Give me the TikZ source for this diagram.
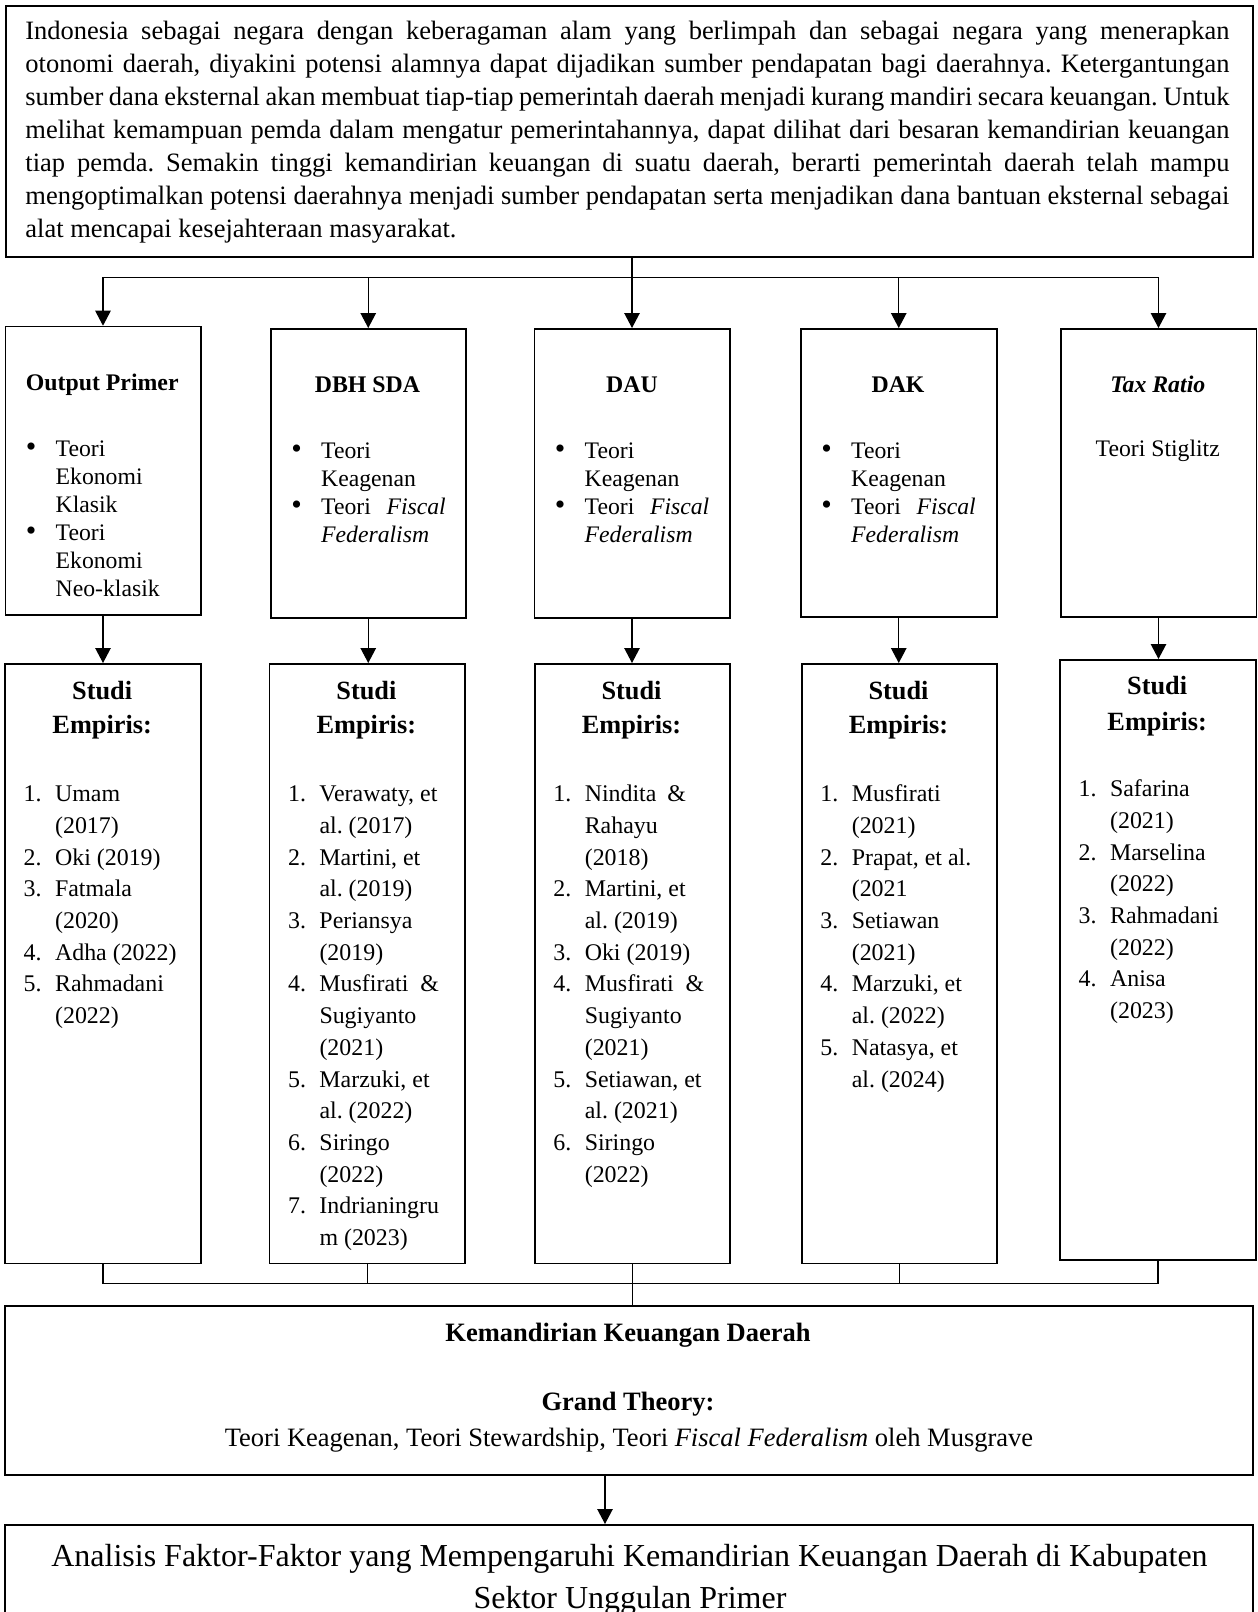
\documentclass[tikz,border=0pt]{standalone}
\usepackage{fontspec}
\setmainfont{Liberation Serif}
\usetikzlibrary{arrows.meta}
\frenchspacing
\newcommand\mkbox[5]{\node[bx, minimum width={(#4-#2)*0.5pt}, minimum height={(#5-#3)*0.5pt}] (#1) at (#2,#3) {};}
\newcommand\Li[2]{\hbox{\hbox to 15.7pt{#1\hfil}#2}}
\newcommand\Bu[2]{\hbox{\hbox to 14.9pt{#1\hfil}#2}}
\newcommand\bul{\raisebox{-0.4pt}{\fontsize{15}{15}\selectfont\textbullet}}
\newcommand\TF{\hbox to 62.3pt{Teori\hfil\textit{Fiscal}}}
\begin{document}
\begin{tikzpicture}[x=0.5pt,y=-0.5pt,
  bx/.style={draw, line width=0.75pt, inner sep=0pt, anchor=north west},
  ln/.style={line width=0.6pt, line cap=rect},
  arr/.style={line width=0.6pt, -{Triangle[length=7.5pt,width=7.75pt]}},
  hd/.style={inner sep=0pt, anchor=base, font=\fontsize{11.9}{14}\selectfont\bfseries},
  bl/.style={inner sep=0pt, anchor=base west, font=\fontsize{11.85}{14}\selectfont},
  sh/.style={inner sep=0pt, anchor=base, font=\fontsize{13.15}{17}\selectfont\bfseries},
  nl/.style={inner sep=0pt, anchor=base west, font=\fontsize{11.95}{15.85}\selectfont},
  kt/.style={inner sep=0pt, anchor=base, font=\fontsize{13.25}{16}\selectfont},
  ktb/.style={kt, font=\fontsize{13.25}{16}\selectfont\bfseries},
  ft/.style={inner sep=0pt, anchor=base, font=\fontsize{16}{21}\selectfont},
]
\useasboundingbox (0,0) rectangle (1258,1612);
\clip (0,0) rectangle (1258,1612);

% boxes
\mkbox{top}{5}{5}{1252}{256}
\mkbox{op}{4.5}{325.7}{200}{614}
\mkbox{dbh}{270}{328}{465}{617}
\mkbox{dau}{533.5}{328}{729}{617}
\mkbox{dak}{800}{328}{996}{616}
\mkbox{tax}{1060}{328}{1255.5}{616}
\mkbox{sa}{4.3}{663}{200}{1262.5}
\mkbox{sb}{268.7}{663}{464}{1262.5}
\mkbox{sc}{534}{663}{729}{1262.5}
\mkbox{sd}{801}{663}{996}{1262.5}
\mkbox{se}{1059.3}{659}{1255}{1259}
\mkbox{kem}{4}{1305.3}{1252}{1474}
\mkbox{fin}{4}{1524}{1252}{1700}

% intro text
\node[anchor=base west, inner sep=0pt, font=\fontsize{13.25}{16.5}\selectfont] (intro) at (25,39) {\vtop{\hsize=602pt
\hbox to\hsize{Indonesia sebagai negara dengan keberagaman alam yang berlimpah dan sebagai negara yang menerapkan}
\hbox to\hsize{otonomi daerah, diyakini potensi alamnya dapat dijadikan sumber pendapatan bagi daerahnya. Ketergantungan}
\hbox to\hsize{sumber dana eksternal akan membuat tiap-tiap pemerintah daerah menjadi kurang mandiri secara keuangan. Untuk}
\hbox to\hsize{melihat kemampuan pemda dalam mengatur pemerintahannya, dapat dilihat dari besaran kemandirian keuangan}
\hbox to\hsize{tiap pemda. Semakin tinggi kemandirian keuangan di suatu daerah, berarti pemerintah daerah telah mampu}
\hbox to\hsize{mengoptimalkan potensi daerahnya menjadi sumber pendapatan serta menjadikan dana bantuan eksternal sebagai}
\hbox{alat mencapai kesejahteraan masyarakat.}}};

% row 1 headings
\node[hd] (hop) at (102.25,390.7) {Output Primer};
\node[hd] (hdbh) at (367.5,392.7) {DBH SDA};
\node[hd] (hdau) at (632,392.7) {DAU};
\node[hd] (hdak) at (898,392.7) {DAK};
\node[hd] (htax) at (1157.75,392.2) {\itshape Tax Ratio};

% row 1 lists
\node[bl] (lop) at (25.5,456) {\vtop{\Bu{\bul}{Teori}\Bu{}{Ekonomi}\Bu{}{Klasik}\Bu{\bul}{Teori}\Bu{}{Ekonomi}\Bu{}{Neo-klasik}}};
\node[bl] (ldbh) at (291,458) {\vtop{\Bu{\bul}{Teori}\Bu{}{Keagenan}\Bu{\bul}{\TF}\Bu{}{\textit{Federalism}}}};
\node[bl] (ldau) at (554.5,458) {\vtop{\Bu{\bul}{Teori}\Bu{}{Keagenan}\Bu{\bul}{\TF}\Bu{}{\textit{Federalism}}}};
\node[bl] (ldak) at (821,458) {\vtop{\Bu{\bul}{Teori}\Bu{}{Keagenan}\Bu{\bul}{\TF}\Bu{}{\textit{Federalism}}}};
\node[bl, anchor=base] (ltax) at (1157.75,456) {Teori Stiglitz};

% studi headings
\node[sh] (ha) at (102.15,699.3) {\vtop{\hbox to 90pt{\hfil Studi\hfil}\hbox to 90pt{\hfil Empiris:\hfil}}};
\node[sh] (hb) at (366.35,699.3) {\vtop{\hbox to 90pt{\hfil Studi\hfil}\hbox to 90pt{\hfil Empiris:\hfil}}};
\node[sh] (hc) at (631.5,699.3) {\vtop{\hbox to 90pt{\hfil Studi\hfil}\hbox to 90pt{\hfil Empiris:\hfil}}};
\node[sh] (hd) at (898.5,699.3) {\vtop{\hbox to 90pt{\hfil Studi\hfil}\hbox to 90pt{\hfil Empiris:\hfil}}};
\node[sh, font=\fontsize{13.15}{18}\selectfont\bfseries] (he) at (1157.15,694) {\vtop{\hbox to 90pt{\hfil Studi\hfil}\hbox to 90pt{\hfil Empiris:\hfil}}};

% studi lists
\node[nl] (la) at (23.3,801.7) {\vtop{\Li{1.}{Umam}\Li{}{(2017)}\Li{2.}{Oki (2019)}\Li{3.}{Fatmala}\Li{}{(2020)}\Li{4.}{Adha (2022)}\Li{5.}{Rahmadani}\Li{}{(2022)}}};
\node[nl] (lb) at (287.7,801.7) {\vtop{\Li{1.}{Verawaty, et}\Li{}{al. (2017)}\Li{2.}{Martini, et}\Li{}{al. (2019)}\Li{3.}{Periansya}\Li{}{(2019)}\Li{4.}{\hbox to 59.7pt{Musfirati\hfil\&}}\Li{}{Sugiyanto}\Li{}{(2021)}\Li{5.}{Marzuki, et}\Li{}{al. (2022)}\Li{6.}{Siringo}\Li{}{(2022)}\Li{7.}{Indrianingru}\Li{}{m (2023)}}};
\node[nl] (lc) at (553,801.7) {\vtop{\Li{1.}{\hbox to 50.6pt{Nindita\hfil\&}}\Li{}{Rahayu}\Li{}{(2018)}\Li{2.}{Martini, et}\Li{}{al. (2019)}\Li{3.}{Oki (2019)}\Li{4.}{\hbox to 59.7pt{Musfirati\hfil\&}}\Li{}{Sugiyanto}\Li{}{(2021)}\Li{5.}{Setiawan, et}\Li{}{al. (2021)}\Li{6.}{Siringo}\Li{}{(2022)}}};
\node[nl] (ld) at (820,801.7) {\vtop{\Li{1.}{Musfirati}\Li{}{(2021)}\Li{2.}{Prapat, et al.}\Li{}{(2021}\Li{3.}{Setiawan}\Li{}{(2021)}\Li{4.}{Marzuki, et}\Li{}{al. (2022)}\Li{5.}{Natasya, et}\Li{}{al. (2024)}}};
\node[nl] (le) at (1078.3,796.7) {\vtop{\Li{1.}{Safarina}\Li{}{(2021)}\Li{2.}{Marselina}\Li{}{(2022)}\Li{3.}{Rahmadani}\Li{}{(2022)}\Li{4.}{Anisa}\Li{}{(2023)}}};

% kemandirian
\node[ktb] (kt1) at (628,1341) {Kemandirian Keuangan Daerah};
\node[ktb] (kt2) at (628,1410) {Grand Theory:};
\node[kt] (kt3) at (629,1446) {Teori Keagenan, Teori Stewardship, Teori \textit{Fiscal Federalism} oleh Musgrave};

% final
\node[ft] (ft1) at (629.5,1566) {Analisis Faktor-Faktor yang Mempengaruhi Kemandirian Keuangan Daerah di Kabupaten};
\node[ft] (ft2) at (630,1608) {Sektor Unggulan Primer};

% connectors
\coordinate (barT) at (0,277.7);
\draw[arr] (top.south -| dau.north) -- (dau.north);
\draw[ln] (op.north |- barT) -- (tax.north |- barT);
\foreach \b in {op,dbh,dak,tax} \draw[arr] (\b.north |- barT) -- (\b.north);
\foreach \a/\b in {op/sa,dbh/sb,dau/sc,dak/sd,tax/se} \draw[arr] (\a.south) -- (\a.south |- \b.north);
\coordinate (barB) at (0,1283.3);
\foreach \b in {sa,sb,sc,sd,se} \draw[ln] (\b.south) -- (\b.south |- barB);
\draw[ln] (sa.south |- barB) -- (se.south |- barB);
\draw[ln] (sc.south |- barB) -- (sc.south |- kem.north);
\coordinate (kx) at (605,0);
\draw[arr] (kem.south -| kx) -- (fin.north -| kx);
\end{tikzpicture}
\end{document}
